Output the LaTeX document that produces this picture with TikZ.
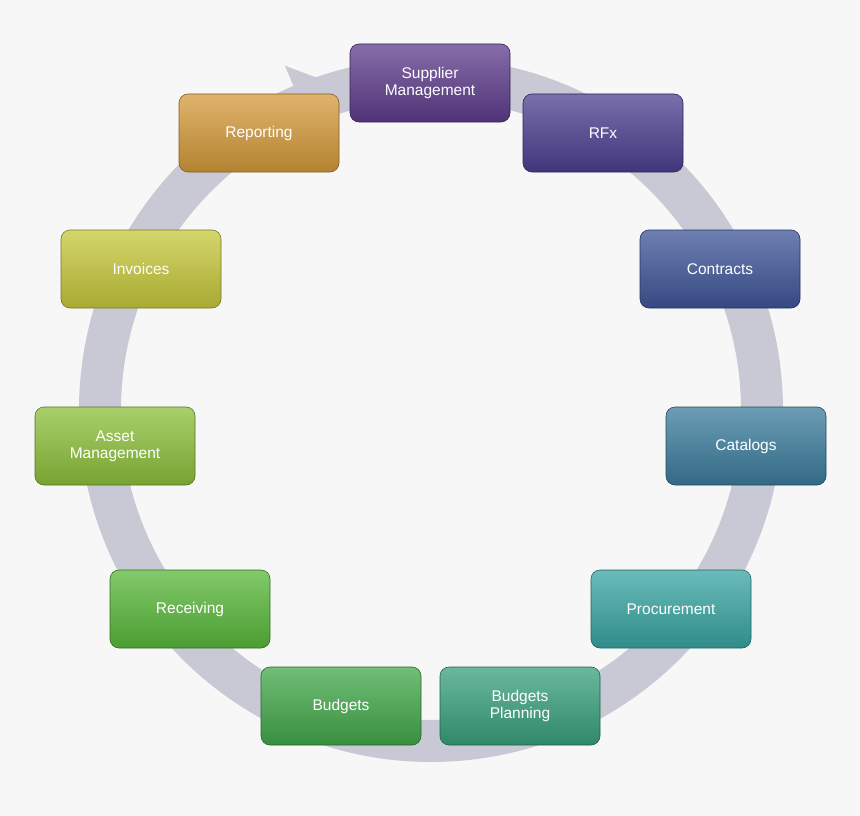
\documentclass[tikz,border=0pt]{standalone}
\usepackage{fontspec}
\setmainfont{Liberation Sans}
\begin{document}
\begin{tikzpicture}[x=1pt,y=-1pt,
  box/.style={rounded corners=9pt,minimum width=160pt,minimum height=78pt,align=center,text=white,
    font=\fontsize{15.5}{17}\selectfont,draw=black!40,line width=0.6pt,drop shadow/.style={}},
]
\fill[gray!6] (0,0) rectangle (860,816);
\useasboundingbox (0,0) rectangle (860,816);
\def\cx{431}\def\cy{410}
\fill[black!17!white!95!blue,even odd rule] (\cx,\cy) circle (352) (\cx,\cy) circle (310);
\fill[black!17!white!95!blue] ([shift={(\cx,\cy)}]-113:290) -- ([shift={(\cx,\cy)}]-113:374) -- ([shift={(\cx,\cy)}]-104.5:331) -- cycle;
\newcommand\bx[5]{%
  \node[box,top color=#4!75!white,bottom color=#4!85!black,draw=#4!60!black] (#1) at (#2,#3) {#5};}
\definecolor{cSM}{HTML}{5E3C8C}
\definecolor{cRF}{HTML}{4B3F90}
\definecolor{cCO}{HTML}{3E5598}
\definecolor{cCA}{HTML}{3B7C9C}
\definecolor{cPR}{HTML}{38A5A2}
\definecolor{cBP}{HTML}{38A07C}
\definecolor{cBU}{HTML}{42A84A}
\definecolor{cRE}{HTML}{58B83A}
\definecolor{cAM}{HTML}{8CC03A}
\definecolor{cIN}{HTML}{C6C83A}
\definecolor{cRP}{HTML}{D49A3A}
\bx{sm}{430}{83}{cSM}{Supplier\\Management}
\bx{rfx}{603}{133}{cRF}{RFx}
\bx{con}{720}{269}{cCO}{Contracts}
\bx{cat}{746}{446}{cCA}{Catalogs}
\bx{pro}{671}{609}{cPR}{Procurement}
\bx{bp}{520}{706}{cBP}{Budgets\\Planning}
\bx{bud}{341}{706}{cBU}{Budgets}
\bx{rec}{190}{609}{cRE}{Receiving}
\bx{am}{115}{446}{cAM}{Asset\\Management}
\bx{inv}{141}{269}{cIN}{Invoices}
\bx{rep}{259}{133}{cRP}{Reporting}
\end{tikzpicture}
\end{document}
